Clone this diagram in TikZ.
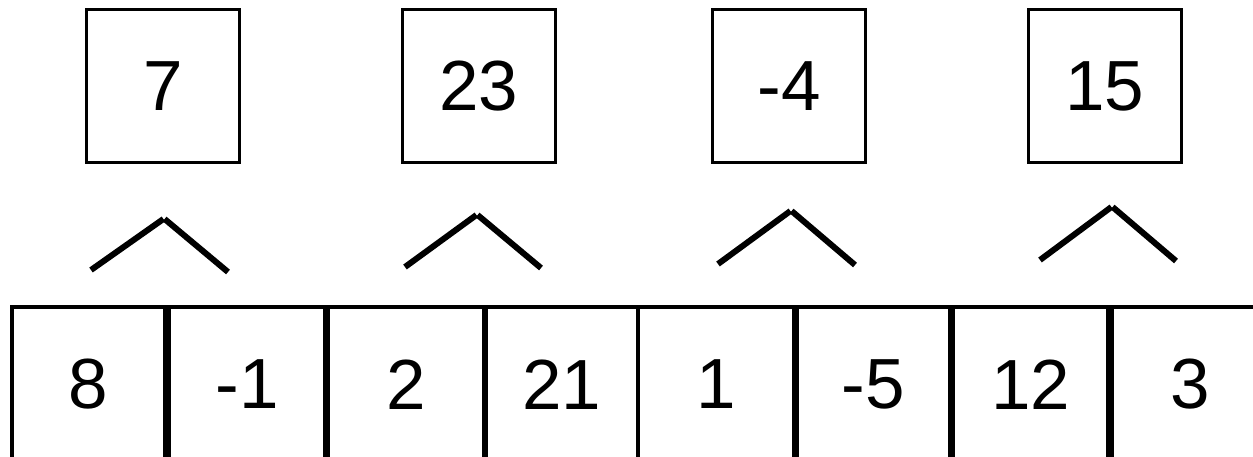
\documentclass[tikz,border=0pt]{standalone}
\usepackage{fontspec}
\setmainfont{Liberation Sans}
\begin{document}
\begin{tikzpicture}[x=1pt,y=-1pt]
\tikzset{
  topbox/.style={draw, line width=3pt, minimum width=153pt, minimum height=153pt, inner sep=0pt, font=\fontsize{71}{80}\selectfont},
  cell/.style={draw, line width=4pt, minimum height=155pt, inner sep=0pt, font=\fontsize{71}{80}\selectfont},
  caretline/.style={line width=6pt}
}
\useasboundingbox (0,0) rectangle (1253,457);
\clip (0,0) rectangle (1253,457);
% top boxes
\node[topbox] (t1) at (163,86.5) {7};
\node[topbox] (t2) at (479,86.5) {23};
\node[topbox] (t3) at (789,86.5) {-4};
\node[topbox] (t4) at (1104.5,86.5) {15};
% bottom cells
\node[cell, minimum width=153pt] (c1) at (88.5,384.5) {8};
\node[cell, minimum width=156pt] (c2) at (247,384.5) {-1};
\node[cell, minimum width=156pt] (c3) at (406,384.5) {2};
\node[cell, minimum width=152pt] (c4) at (562,384.5) {21};
\node[cell, minimum width=156pt] (c5) at (716,384.5) {1};
\node[cell, minimum width=153pt] (c6) at (873.5,384.5) {-5};
\node[cell, minimum width=155pt] (c7) at (1030.5,384.5) {12};
\node[cell, minimum width=156pt] (c8) at (1190,384.5) {3};
% carets
\coordinate (a1l) at (91,270); \coordinate (a1t) at (164,219); \coordinate (a1r) at (228,272);
\coordinate (a2l) at (405,267); \coordinate (a2t) at (477,215); \coordinate (a2r) at (541,268);
\coordinate (a3l) at (718,264); \coordinate (a3t) at (791,211); \coordinate (a3r) at (855,265);
\coordinate (a4l) at (1040,260); \coordinate (a4t) at (1112,207); \coordinate (a4r) at (1176,261);
\foreach \i in {1,2,3,4}{
  \draw[caretline] (a\i l) -- ([xshift=-0.6pt]a\i t);
  \draw[caretline] ([xshift=0.6pt]a\i t) -- (a\i r);
}
\end{tikzpicture}
\end{document}
